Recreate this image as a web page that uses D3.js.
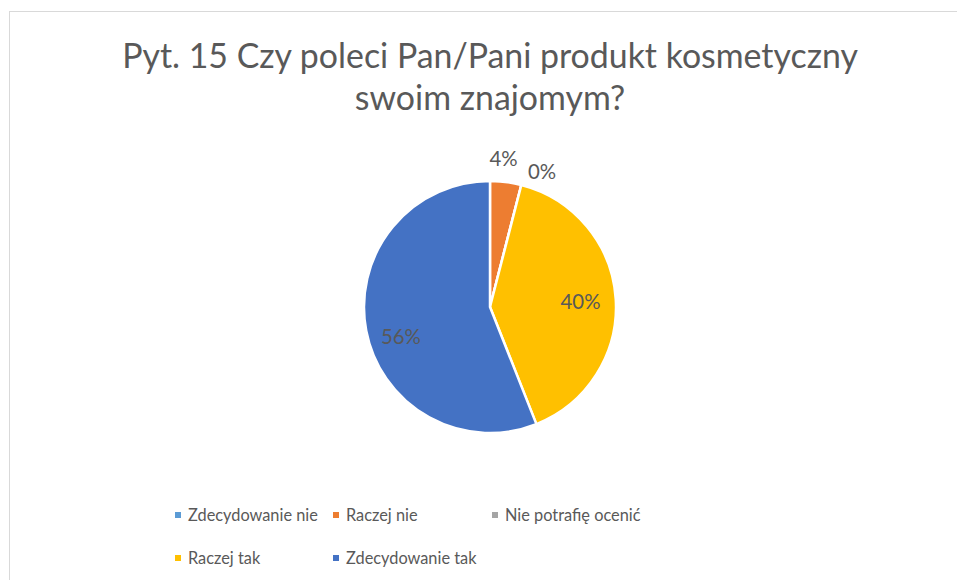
<!DOCTYPE html>
<html>
<head>
<meta charset="utf-8">
<script src="https://cdn.jsdelivr.net/npm/d3@7"></script>
<style>
  html, body { margin: 0; padding: 0; background: #fff; }
  svg { display: block; }
  text { font-family: Lato, "Open Sans", sans-serif; fill: #595959; }
</style>
</head>
<body>
<svg id="chart" width="957" height="580"></svg>
<script>
// Survey answers, in the order they go round the pie (clockwise from 12 o'clock)
const categories = ["Zdecydowanie nie", "Raczej nie", "Nie potrafię ocenić", "Raczej tak", "Zdecydowanie tak"];
const values = [0, 4, 0, 40, 56];
const colors = ["#5B9BD5", "#ED7D31", "#A5A5A5", "#FFC000", "#4472C4"];
const titleLines = ["Pyt. 15 Czy poleci Pan/Pani produkt kosmetyczny", "swoim znajomym?"];

const svg = d3.select("#chart");

// pick a font size so that a string takes up the given width
function fitSize(str, width) {
  const t = svg.append("text").attr("font-size", 100).text(str);
  const w = t.node().getComputedTextLength();
  t.remove();
  return 100 * width / w;
}
const titleSize = fitSize(titleLines[0], 736);
const legendSize = fitSize(categories[0], 130);
const labelSize = fitSize("40%", 40);

// chart frame
svg.append("rect")
  .attr("x", 9.5).attr("y", 11.5)
  .attr("width", 960).attr("height", 600)
  .attr("fill", "#fff")
  .attr("stroke", "#d9d9d9").attr("stroke-width", 1);

// title
const title = svg.append("text")
  .attr("text-anchor", "middle")
  .attr("font-size", titleSize);
titleLines.forEach((line, i) => {
  title.append("tspan").attr("x", 490).attr("y", 68 + i * 42).text(line);
});

// pie
const cx = 490, cy = 307, r = 126;
const pie = d3.pie().sort(null).value(d => d.value);
const arcs = pie(categories.map((c, i) => ({ name: c, value: values[i], color: colors[i] })));
const arc = d3.arc().innerRadius(0).outerRadius(r);

const g = svg.append("g").attr("transform", `translate(${cx},${cy})`);
g.selectAll("path")
  .data(arcs)
  .join("path")
  .attr("d", arc)
  .attr("fill", d => d.data.color)
  .attr("stroke", "#fff")
  .attr("stroke-width", 2.5)
  .attr("stroke-linejoin", "round");

// percentage labels: large slices inside, small ones just outside the rim
const inner = d3.arc().innerRadius(r * 0.72).outerRadius(r * 0.72);
const outer = d3.arc().innerRadius(r * 1.18).outerRadius(r * 1.18);
const nudge = { "Raczej nie": [-5, -1], "Nie potrafię ocenić": [15, 8], "Zdecydowanie tak": [0, 12] };
g.selectAll("text.pct")
  .data(arcs.filter(d => d.data.name !== "Zdecydowanie nie"))
  .join("text")
  .attr("class", "pct")
  .attr("font-size", labelSize)
  .attr("text-anchor", "middle")
  .attr("dominant-baseline", "central")
  .attr("transform", d => {
    const p = d.data.value < 10 ? outer.centroid(d) : inner.centroid(d);
    const n = nudge[d.data.name] || [0, 0];
    return `translate(${p[0] + n[0]},${p[1] + n[1]})`;
  })
  .text(d => d3.format(".0f")(d.data.value) + "%");

// legend
const legendCols = [175, 333, 492];
const legendRows = [515, 558];
const legend = svg.append("g");
categories.forEach((c, i) => {
  const col = i < 3 ? i : i - 3;
  const row = i < 3 ? 0 : 1;
  const x = legendCols[col], y = legendRows[row];
  legend.append("rect")
    .attr("x", x).attr("y", y - 3).attr("width", 6).attr("height", 6)
    .attr("fill", colors[i]);
  legend.append("text")
    .attr("x", x + 13).attr("y", y + legendSize * 0.36)
    .attr("font-size", legendSize)
    .text(c);
});
</script>
</body>
</html>
